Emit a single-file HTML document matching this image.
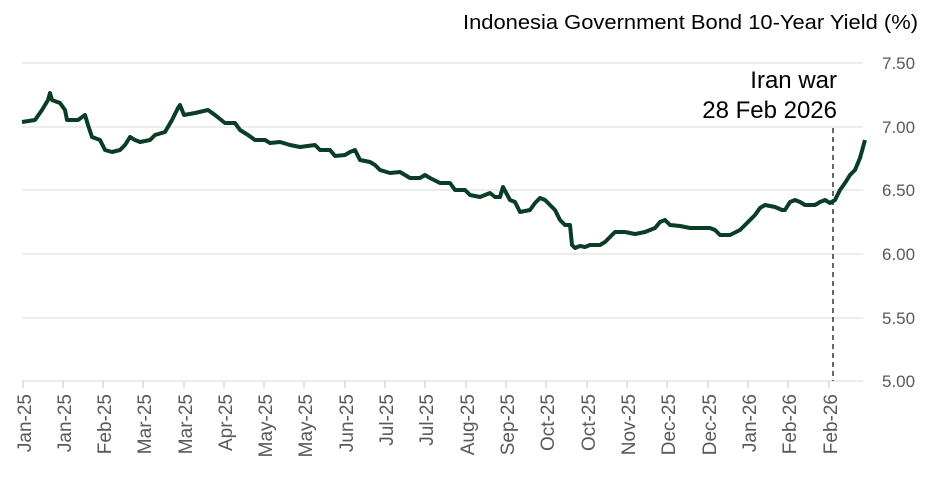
<!DOCTYPE html>
<html><head><style>
body{margin:0;background:#fff;width:936px;height:479px;overflow:hidden;font-family:"Liberation Sans",sans-serif;}
</style></head><body>
<svg width="936" height="479" xmlns="http://www.w3.org/2000/svg" font-family="Liberation Sans, sans-serif">
<text x="463" y="29" font-size="20" textLength="455" lengthAdjust="spacingAndGlyphs" fill="#000">Indonesia Government Bond 10-Year Yield (%)</text>
<g stroke="#d9d9d9" stroke-width="1">
<line x1="22" x2="863" y1="63" y2="63"/>
<line x1="22" x2="863" y1="127" y2="127"/>
<line x1="22" x2="863" y1="190" y2="190"/>
<line x1="22" x2="863" y1="254" y2="254"/>
<line x1="22" x2="863" y1="318" y2="318"/>
<line x1="22" x2="863" y1="381" y2="381"/>
</g>
<g stroke="#d0d0d0" stroke-width="1.2">
<line x1="23" x2="23" y1="381" y2="388"/><line x1="63" x2="63" y1="381" y2="388"/><line x1="103" x2="103" y1="381" y2="388"/><line x1="143" x2="143" y1="381" y2="388"/><line x1="184" x2="184" y1="381" y2="388"/><line x1="224" x2="224" y1="381" y2="388"/><line x1="264" x2="264" y1="381" y2="388"/><line x1="304" x2="304" y1="381" y2="388"/><line x1="345" x2="345" y1="381" y2="388"/><line x1="385" x2="385" y1="381" y2="388"/><line x1="425" x2="425" y1="381" y2="388"/><line x1="466" x2="466" y1="381" y2="388"/><line x1="506" x2="506" y1="381" y2="388"/><line x1="546" x2="546" y1="381" y2="388"/><line x1="587" x2="587" y1="381" y2="388"/><line x1="627" x2="627" y1="381" y2="388"/><line x1="667" x2="667" y1="381" y2="388"/><line x1="708" x2="708" y1="381" y2="388"/><line x1="748" x2="748" y1="381" y2="388"/><line x1="788" x2="788" y1="381" y2="388"/><line x1="829" x2="829" y1="381" y2="388"/>
</g>
<g font-size="17" fill="#595959">
<text x="882" y="69">7.50</text>
<text x="882" y="133">7.00</text>
<text x="882" y="196">6.50</text>
<text x="882" y="260">6.00</text>
<text x="882" y="324">5.50</text>
<text x="882" y="387">5.00</text>
</g>
<g font-size="19" fill="#595959" text-anchor="end">
<text transform="translate(31,394) rotate(-90)">Jan-25</text>
<text transform="translate(71,394) rotate(-90)">Jan-25</text>
<text transform="translate(111,394) rotate(-90)">Feb-25</text>
<text transform="translate(151,394) rotate(-90)">Mar-25</text>
<text transform="translate(192,394) rotate(-90)">Mar-25</text>
<text transform="translate(232,394) rotate(-90)">Apr-25</text>
<text transform="translate(272,394) rotate(-90)">May-25</text>
<text transform="translate(312,394) rotate(-90)">May-25</text>
<text transform="translate(353,394) rotate(-90)">Jun-25</text>
<text transform="translate(393,394) rotate(-90)">Jul-25</text>
<text transform="translate(433,394) rotate(-90)">Jul-25</text>
<text transform="translate(474,394) rotate(-90)">Aug-25</text>
<text transform="translate(514,394) rotate(-90)">Sep-25</text>
<text transform="translate(554,394) rotate(-90)">Oct-25</text>
<text transform="translate(595,394) rotate(-90)">Oct-25</text>
<text transform="translate(635,394) rotate(-90)">Nov-25</text>
<text transform="translate(675,394) rotate(-90)">Dec-25</text>
<text transform="translate(716,394) rotate(-90)">Dec-25</text>
<text transform="translate(756,394) rotate(-90)">Jan-26</text>
<text transform="translate(796,394) rotate(-90)">Feb-26</text>
<text transform="translate(837,394) rotate(-90)">Feb-26</text>
</g>
<line x1="833" x2="833" y1="128" y2="381" stroke="#333" stroke-width="1.5" stroke-dasharray="5,4"/>
<text x="837" y="88" font-size="24" text-anchor="end">Iran war</text>
<text x="837" y="118" font-size="24" text-anchor="end">28 Feb 2026</text>
<polyline fill="none" stroke="#0a3d25" stroke-width="4" stroke-linejoin="round" points="22,122 35,120 42,110 48,100 50,93 52,100 60,103 65,110 67,120 78,120 85,115 88,125 92,137 100,140 105,150 112,152 120,150 125,145 130,137 135,140 140,142 150,140 155,135 165,132 172,120 178,108 180,105 184,115 195,113 208,110 215,115 225,123 235,123 240,130 248,135 255,140 265,140 270,143 280,142 290,145 300,147 315,145 320,150 330,150 335,156 345,155 350,152 355,150 360,160 370,162 375,165 380,170 390,173 400,172 410,178 420,178 425,175 430,178 440,183 450,183 455,190 465,190 470,195 480,197 490,193 495,197 500,197 503,187 510,200 515,202 520,212 530,210 535,203 540,198 545,200 550,205 555,210 560,220 565,225 570,225 572,245 575,248 580,246 585,247 590,245 600,245 605,242 610,237 615,232 625,232 635,234 645,232 650,230 655,228 660,222 665,220 670,225 680,226 690,228 700,228 710,228 715,230 720,235 730,235 740,230 745,225 755,215 760,208 765,205 775,207 782,210 785,210 790,202 795,200 800,202 805,205 815,205 820,202 825,200 830,203 835,200 840,190 845,183 850,175 855,170 860,158 865,140"/>
</svg>
</body></html>
